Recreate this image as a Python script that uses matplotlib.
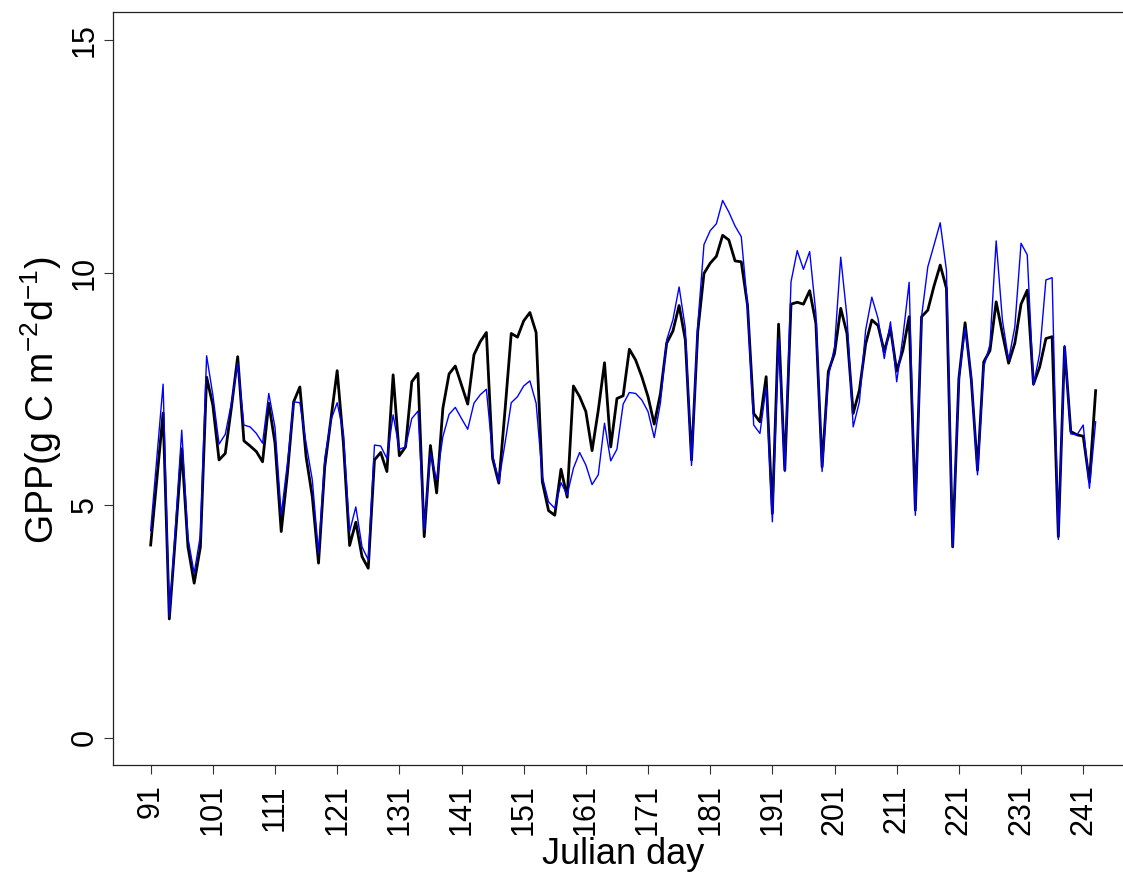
import numpy as np
import matplotlib
matplotlib.use("Agg")
import matplotlib.pyplot as plt

plt.rcParams['font.family'] = ['Liberation Sans', 'DejaVu Sans']
plt.rcParams['mathtext.default'] = 'regular'

days = np.arange(91, 244)

gpp_black = [
    4.14, 5.55, 6.98, 2.55, 4.35, 6.21, 4.10, 3.32, 4.10, 7.75,   # 91-100
    7.15, 5.97, 6.11, 7.11, 8.19, 6.38, 6.27, 6.15, 5.93, 7.19,   # 101-110
    6.33, 4.43, 5.68, 7.22, 7.54, 6.04, 5.18, 3.75, 5.82, 6.86,   # 111-120
    7.89, 6.33, 4.13, 4.63, 3.89, 3.64, 5.97, 6.13, 5.72, 7.80,   # 121-130
    6.06, 6.25, 7.65, 7.83, 4.32, 6.28, 5.26, 7.08, 7.82, 7.99,   # 131-140
    7.58, 7.17, 8.23, 8.51, 8.71, 6.00, 5.47, 7.04, 8.69, 8.61,   # 141-150
    8.96, 9.14, 8.71, 5.50, 4.88, 4.78, 5.77, 5.17, 7.56, 7.33,   # 151-160
    7.01, 6.17, 7.04, 8.06, 6.25, 7.29, 7.35, 8.35, 8.12, 7.76,   # 161-170
    7.33, 6.74, 7.40, 8.48, 8.74, 9.29, 8.55, 5.97, 8.73, 9.98,   # 171-180
    10.20, 10.35, 10.80, 10.70, 10.25, 10.23, 9.30, 6.97, 6.79, 7.76,  # 181-190
    4.82, 8.89, 5.75, 9.32, 9.36, 9.32, 9.61, 8.91, 5.82, 7.87,   # 191-200
    8.26, 9.23, 8.69, 6.97, 7.47, 8.46, 8.98, 8.86, 8.30, 8.80,   # 201-210
    7.88, 8.33, 9.05, 4.89, 9.05, 9.19, 9.71, 10.16, 9.66, 4.10,  # 211-220
    7.72, 8.92, 7.69, 5.75, 8.08, 8.32, 9.37, 8.69, 8.05, 8.48,   # 221-230
    9.32, 9.62, 7.60, 7.97, 8.58, 8.62, 4.32, 8.40, 6.58, 6.51,   # 231-240
    6.48, 5.50, 7.46,                                             # 241-243
]

gpp_blue = [
    4.45, 6.02, 7.60, 2.60, 4.55, 6.61, 4.29, 3.53, 4.35, 8.21,   # 91-100
    7.37, 6.31, 6.52, 7.20, 8.05, 6.72, 6.68, 6.54, 6.33, 7.40,   # 101-110
    6.67, 4.79, 5.90, 7.22, 7.20, 6.33, 5.54, 3.96, 6.00, 6.83,   # 111-120
    7.20, 6.55, 4.43, 4.96, 4.10, 3.82, 6.29, 6.27, 6.00, 6.94,   # 121-130
    6.20, 6.25, 6.86, 7.02, 4.46, 6.11, 5.54, 6.47, 6.95, 7.10,   # 131-140
    6.86, 6.63, 7.19, 7.37, 7.49, 6.08, 5.50, 6.33, 7.20, 7.33,   # 141-150
    7.56, 7.67, 7.19, 5.61, 5.07, 4.93, 5.48, 5.22, 5.79, 6.13,   # 151-160
    5.86, 5.44, 5.65, 6.76, 5.95, 6.20, 7.17, 7.42, 7.40, 7.26,   # 161-170
    7.01, 6.45, 7.20, 8.55, 8.98, 9.69, 8.80, 5.85, 8.87, 10.60,  # 171-180
    10.90, 11.05, 11.55, 11.30, 11.00, 10.77, 9.30, 6.72, 6.54, 7.54,  # 181-190
    4.64, 8.58, 5.72, 9.80, 10.47, 10.07, 10.45, 9.12, 5.72, 7.76,  # 191-200
    8.40, 10.33, 9.05, 6.68, 7.22, 8.76, 9.47, 9.01, 8.15, 8.94,  # 201-210
    7.65, 8.62, 9.79, 4.78, 9.05, 10.12, 10.59, 11.07, 10.05, 4.10,  # 211-220
    7.70, 8.80, 7.76, 5.65, 7.97, 8.45, 10.68, 8.98, 8.12, 8.83,  # 221-230
    10.63, 10.38, 7.58, 8.26, 9.84, 9.89, 4.26, 8.43, 6.53, 6.51,  # 231-240
    6.72, 5.36, 6.79,                                             # 241-243
]

xticks = np.arange(91, 242, 10)
yticks = [0, 5, 10, 15]

fig = plt.figure(figsize=(11.23, 8.72), dpi=100)
ax = fig.add_axes([0.1005, 0.1222, 0.9088, 0.8639])

ax.plot(days, gpp_black, color='black', lw=2.0, zorder=2)
ax.plot(days, gpp_blue, color='blue', lw=1.0, zorder=3)

ax.set_xlim(84.92, 249.08)
ax.set_ylim(-0.6, 15.6)

ax.set_xticks(xticks)
ax.set_xticklabels([str(t) for t in xticks], rotation=90, fontsize=22)
ax.set_yticks(yticks)
ax.set_yticklabels([str(t) for t in yticks], rotation=90, fontsize=22, va='center')
ax.tick_params(axis='both', direction='out', length=6.5, width=0.8, color='#333333')
ax.tick_params(axis='x', pad=7)
ax.tick_params(axis='y', pad=3)

for s in ax.spines.values():
    s.set_linewidth(0.9)
    s.set_color('#222222')

ax.set_xlabel('Julian day', fontsize=26, labelpad=1)
ax.set_ylabel(r'GPP(g C m$^{-2}$d$^{-1}$)', fontsize=27)
ax.yaxis.set_label_coords(-0.048, 0.485)

fig.savefig('out.png', dpi=100)
